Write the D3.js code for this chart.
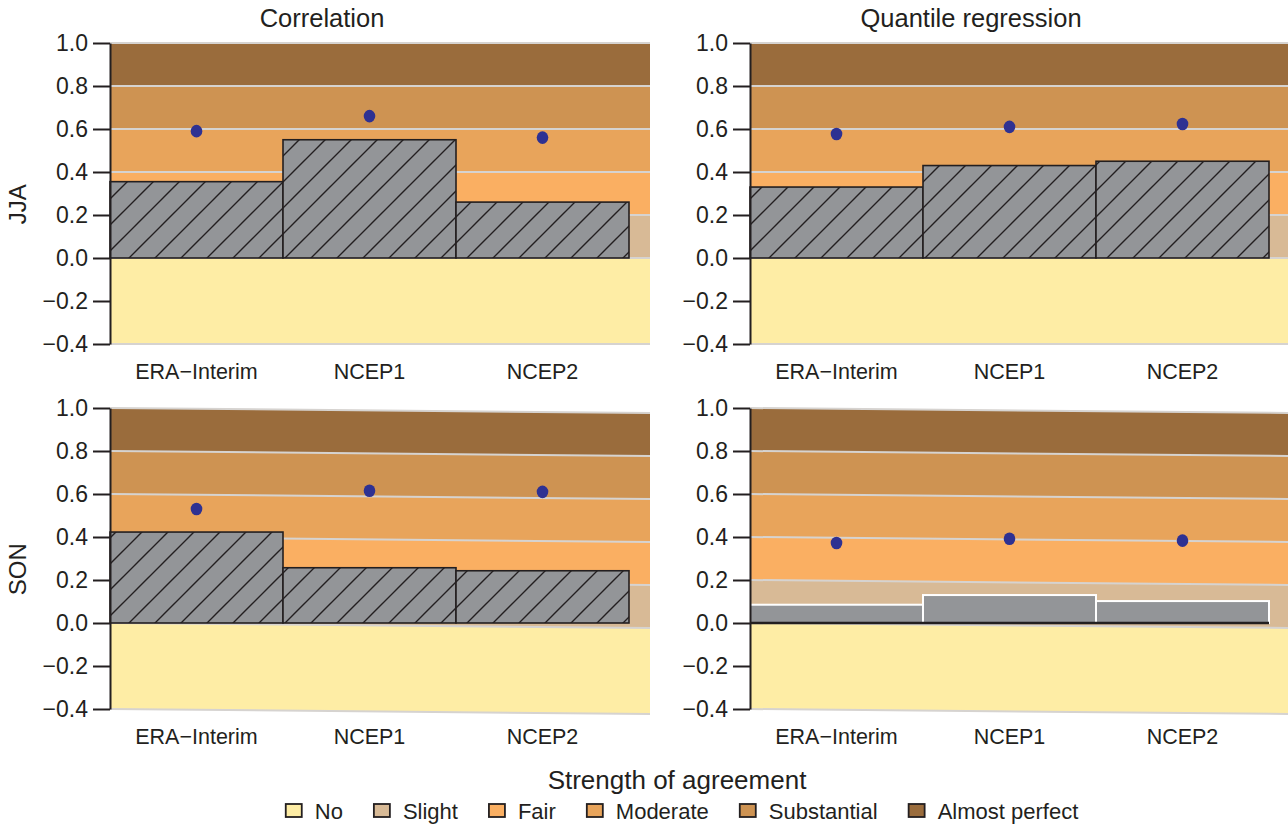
<!DOCTYPE html>
<html>
<head>
<meta charset="utf-8">
<script src="https://cdn.jsdelivr.net/npm/d3@7"></script>
<style>
  body { margin: 0; background: #fff; }
  text { font-family: "Liberation Sans", Arial, sans-serif; fill: #231f20; }
</style>
</head>
<body>
<svg id="chart" width="1288" height="824"></svg>
<script>
// data
const categories = ["ERA\u2212Interim", "NCEP1", "NCEP2"];
const methods    = ["Correlation", "Quantile regression"];
const seasons    = ["JJA", "SON"];

const jjaCorrBars  = [0.355, 0.55, 0.26];
const jjaCorrDots  = [0.59, 0.66, 0.56];
const jjaQuantBars = [0.33, 0.43, 0.45];
const jjaQuantDots = [0.577, 0.61, 0.623];
const sonCorrBars  = [0.423, 0.257, 0.243];
const sonCorrDots  = [0.53, 0.615, 0.61];
const sonQuantBars = [0.085, 0.13, 0.102];
const sonQuantDots = [0.372, 0.392, 0.383];

const bandNames  = ["No", "Slight", "Fair", "Moderate", "Substantial", "Almost perfect"];
const bandBreaks = [-0.4, 0, 0.2, 0.4, 0.6, 0.8, 1.0];
const yTicks     = [-0.4, -0.2, 0, 0.2, 0.4, 0.6, 0.8, 1.0];

const BAND_COLORS = ["#feeda5", "#d8ba96", "#faaf62", "#e8a45b", "#ce9352", "#9a6c3c"];
const DARK  = "#231f20";
const GREY  = "#939598";
const DOT   = "#2e3192";

const COL_X   = [110, 750];
const ROW_Y   = [43, 408];
const PLOT_H  = 301;
const BARS_W  = 519;
const BACK_W  = 540;
const SKEW    = [0, 0.53];   // SON background is slightly tilted in the original
const TITLE_DX = [212, 221];

const panels = [
  [{ bars: jjaCorrBars, dots: jjaCorrDots, hatch: true }, { bars: jjaQuantBars, dots: jjaQuantDots, hatch: true }],
  [{ bars: sonCorrBars, dots: sonCorrDots, hatch: true }, { bars: sonQuantBars, dots: sonQuantDots, hatch: false }]
];

const svg = d3.select("#chart");

// hatch pattern
const pat = svg.append("defs").append("pattern")
  .attr("id", "hatch")
  .attr("patternUnits", "userSpaceOnUse")
  .attr("width", 26).attr("height", 26);
pat.append("rect").attr("width", 26).attr("height", 26).attr("fill", GREY);
pat.append("path")
  .attr("d", "M-6.5,6.5L6.5,-6.5M0,26L26,0M19.5,32.5L32.5,19.5")
  .attr("stroke", DARK).attr("stroke-width", 1.4);

const x = d3.scaleBand().domain(categories).range([0, BARS_W]).padding(0);
const y = d3.scaleLinear().domain([-0.4, 1.0]).range([PLOT_H, 0]);

seasons.forEach((season, r) => {
  methods.forEach((method, c) => {
    const p = panels[r][c];
    const g = svg.append("g").attr("transform", "translate(" + COL_X[c] + "," + ROW_Y[r] + ")");

    // agreement bands
    const bg = g.append("g").attr("transform", "skewY(" + SKEW[r] + ")");
    bg.selectAll("rect.band")
      .data(bandNames)
      .enter().append("rect")
        .attr("class", "band")
        .attr("x", 0)
        .attr("y", (d, i) => y(bandBreaks[i + 1]))
        .attr("width", BACK_W)
        .attr("height", (d, i) => y(bandBreaks[i]) - y(bandBreaks[i + 1]))
        .attr("fill", (d, i) => BAND_COLORS[i]);
    bg.selectAll("line.sep")
      .data(bandBreaks)
      .enter().append("line")
        .attr("class", "sep")
        .attr("x1", 0).attr("x2", BACK_W)
        .attr("y1", d => y(d)).attr("y2", d => y(d))
        .attr("stroke", "#d6d3d0")
        .attr("stroke-width", 2);

    // bars
    g.selectAll("rect.bar")
      .data(p.bars)
      .enter().append("rect")
        .attr("class", "bar")
        .attr("x", (d, i) => x(categories[i]))
        .attr("y", d => y(d))
        .attr("width", x.bandwidth())
        .attr("height", d => y(0) - y(d))
        .attr("fill", p.hatch ? "url(#hatch)" : GREY)
        .attr("stroke", p.hatch ? DARK : "#fff")
        .attr("stroke-width", p.hatch ? 1.6 : 2);

    if (!p.hatch) {
      g.append("line")
        .attr("x1", 0).attr("x2", BARS_W)
        .attr("y1", y(0)).attr("y2", y(0))
        .attr("stroke", DARK).attr("stroke-width", 2.5);
    }

    // dots
    g.selectAll("ellipse.dot")
      .data(p.dots)
      .enter().append("ellipse")
        .attr("class", "dot")
        .attr("cx", (d, i) => x(categories[i]) + x.bandwidth() / 2)
        .attr("cy", d => y(d))
        .attr("rx", 5.8).attr("ry", 6.3)
        .attr("fill", DOT);

    // y axis
    const ax = g.append("g")
      .call(d3.axisLeft(y).tickValues(yTicks).tickFormat(d3.format(".1f")).tickSize(17).tickSizeOuter(0).tickPadding(5));
    ax.select(".domain").attr("stroke", DARK).attr("stroke-width", 2);
    ax.selectAll(".tick line").attr("stroke", DARK).attr("stroke-width", 2);
    ax.selectAll(".tick text").style("font-size", "23px").style("fill", DARK)
      .style("font-family", "'Liberation Sans', Arial, sans-serif");

    // category labels
    g.selectAll("text.cat")
      .data(categories)
      .enter().append("text")
        .attr("class", "cat")
        .attr("x", d => x(d) + x.bandwidth() / 2)
        .attr("y", PLOT_H + 35)
        .attr("text-anchor", "middle")
        .style("font-size", "21.5px")
        .text(d => d);

    if (r == 0) {
      g.append("text")
        .attr("x", TITLE_DX[c])
        .attr("y", -16)
        .attr("text-anchor", "middle")
        .style("font-size", "25.5px")
        .text(method);
    }
    if (c == 0) {
      g.append("text")
        .attr("transform", "translate(" + (-84) + "," + y(0.25) + ") rotate(-90)")
        .attr("text-anchor", "middle")
        .style("font-size", "24px")
        .text(season);
    }
  });
});

// legend
const leg = svg.append("g");
leg.append("text")
  .attr("x", 677).attr("y", 789)
  .attr("text-anchor", "middle")
  .style("font-size", "26px")
  .text("Strength of agreement");

const items = leg.selectAll("g.item")
  .data(bandNames)
  .enter().append("g").attr("class", "item");
items.append("rect")
  .attr("width", 16).attr("height", 13)
  .attr("y", -7)
  .attr("fill", (d, i) => BAND_COLORS[i])
  .attr("stroke", DARK).attr("stroke-width", 1.8);
items.append("text")
  .attr("x", 29).attr("dy", "0.36em")
  .style("font-size", "22px")
  .text(d => d);

let widths = [];
items.each(function() { widths.push(29 + this.querySelector("text").getComputedTextLength()); });
const GAP = 31;
const total = d3.sum(widths) + GAP * (widths.length - 1);
let cx = 682 - total / 2;
items.attr("transform", (d, i) => {
  const t = "translate(" + cx + ",811)";
  cx += widths[i] + GAP;
  return t;
});
</script>
</body>
</html>
